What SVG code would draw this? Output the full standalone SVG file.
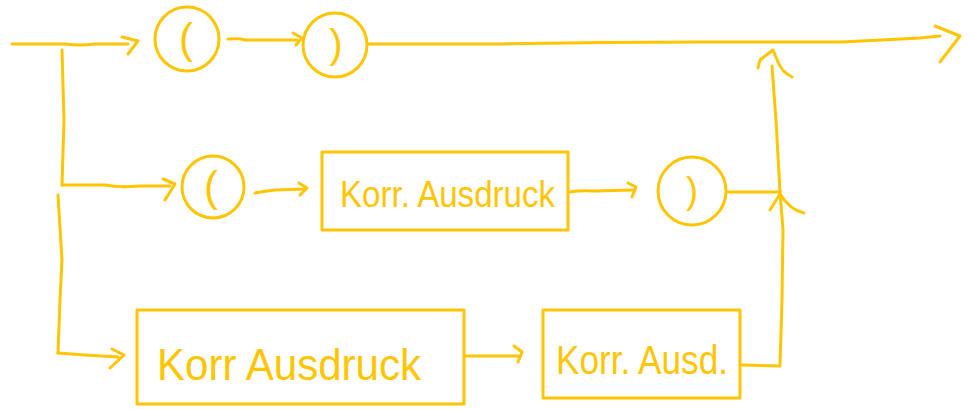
<svg xmlns="http://www.w3.org/2000/svg" width="973" height="409" viewBox="0 0 973 409">
<style>
.s{fill:none;stroke:#FFC500;stroke-width:3;stroke-linecap:round;stroke-linejoin:round}
.t{fill:#FFC500;font-family:"Liberation Sans",Arial,sans-serif}
</style>
<rect width="973" height="409" fill="#ffffff"/>
<g id="connectors" class="s">
<path d="M12,44 L65,44 Q80,46 95,44 L128,44"/>
<path d="M122,37 L138,41 L128,54"/>
<path d="M62,50 L64,120 L62,185"/>
<path d="M62,185 L105,185 Q120,188 140,186 L170,186"/>
<path d="M163,179 L175,184 L165,200"/>
<path d="M58,195 L62,260 L60,300 L58,353"/>
<path d="M58,353 L85,355 L118,357"/>
<path d="M112,349 L124,355 L110,368"/>
<path d="M228,39 Q240,38 245,40 L297,40"/>
<path d="M293,33 L302,38 L296,45"/>
<path d="M368,44 L420,44 L500,44 Q600,42 700,42 L842,42 Q880,40 920,38 L940,36"/>
<path d="M935,26 L960,36 L940,62"/>
<path d="M255,193 Q265,191 275,190 L305,189"/>
<path d="M299,183 L307,188 L300,195"/>
<path d="M570,192 Q580,190 595,191 L633,190"/>
<path d="M628,183 L636,187 L632,197"/>
<path d="M728,192 L780,192"/>
<path d="M770,210 L780,194 Q790,210 804,213"/>
<path d="M780,192 L783,230 L782,300 L780,365"/>
<path d="M780,192 L776,120 L772,66"/>
<path d="M758,68 L760,60 L773,50 L778,62 Q782,72 792,77"/>
<path d="M465,356 L520,356"/>
<path d="M514,346 L522,352 L518,362"/>
<path d="M742,365 L780,366"/>
</g>
<g id="n1">
<circle class="s" cx="187" cy="39" r="32"/>
<text class="t" x="186" y="53" font-size="42" text-anchor="middle">(</text>
</g>
<g id="n2">
<circle class="s" cx="335" cy="45" r="32"/>
<text class="t" x="336" y="58" font-size="40" text-anchor="middle">)</text>
</g>
<g id="n3">
<circle class="s" cx="213" cy="187" r="31"/>
<text class="t" x="211" y="201" font-size="42" text-anchor="middle">(</text>
</g>
<g id="n4">
<rect class="s" x="322" y="152" width="246" height="78"/>
<text class="t" x="340" y="207" font-size="36" textLength="215" lengthAdjust="spacingAndGlyphs">Korr. Ausdruck</text>
</g>
<g id="n5">
<circle class="s" cx="692" cy="191" r="34"/>
<text class="t" x="692" y="203" font-size="36" text-anchor="middle">)</text>
</g>
<g id="n6">
<rect class="s" x="137" y="310" width="327" height="94"/>
<text class="t" x="157" y="380" font-size="44" textLength="264" lengthAdjust="spacingAndGlyphs">Korr Ausdruck</text>
</g>
<g id="n7">
<rect class="s" x="543" y="310" width="197" height="88"/>
<text class="t" x="556" y="374" font-size="40" textLength="172" lengthAdjust="spacingAndGlyphs">Korr. Ausd.</text>
</g>
</svg>
